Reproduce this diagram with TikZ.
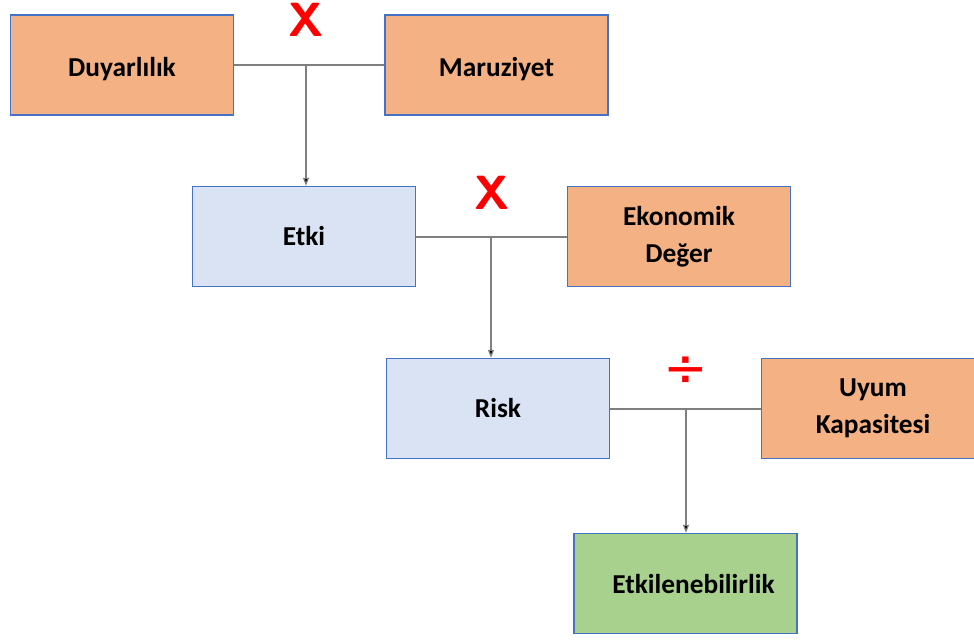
\documentclass[tikz,border=0pt]{standalone}
\usepackage{fontspec}
\setmainfont{Carlito}
\newfontfamily\symfont{DejaVu Sans}
\usetikzlibrary{arrows.meta}
\definecolor{boxorange}{HTML}{F4B183}
\definecolor{boxblue}{HTML}{DAE3F3}
\definecolor{boxgreen}{HTML}{A9D18E}
\definecolor{boxedge}{HTML}{4472C4}
\definecolor{linegray}{HTML}{7F7F7F}
\definecolor{opred}{HTML}{FF0000}
\newcommand{\lowertext}[1]{\raisebox{-3pt}[\height][\depth]{#1}}
\tikzset{
  px/.style={x=0.75pt,y=-0.75pt},
  boxbase/.style={draw=boxedge, line width=1.1pt, minimum width=167.5pt, minimum height=75pt, inner sep=0pt, align=center, font=\fontsize{20.5}{28}\selectfont\bfseries},
  orangebox/.style={boxbase, fill=boxorange},
  bluebox/.style={boxbase, fill=boxblue},
  greenbox/.style={boxbase, fill=boxgreen},
  conn/.style={draw=linegray, line width=0.9pt},
  arr/.style={conn, -{Triangle[width=4.5pt,length=6pt,fill=black]}},
  opsign/.style={text=opred, inner sep=0pt, font=\fontsize{36}{36}\selectfont\bfseries}
}
\begin{document}
\begin{tikzpicture}[px]
\useasboundingbox (0,0) rectangle (974,640);
\clip (0,0) rectangle (974,640);
\fill[white] (0,0) rectangle (974,640);
% boxes
\node[orangebox] (duy) at (122,65) {\lowertext{Duyarlılık}};
\node[orangebox] (mar) at (496.5,65) {\lowertext{Maruziyet}};
\node[bluebox] (etki) at (304,236.5) {Etki};
\node[orangebox] (eko) at (679,236.5) {Ekonomik\\Değer};
\node[bluebox] (risk) at (498,408.5) {Risk};
\node[orangebox] (uyum) at (873,408.5) {Uyum\\Kapasitesi};
\node[greenbox] (etk) at (685.5,583.5) {\hspace*{12pt}Etkilenebilirlik};
% junctions
\coordinate (j1) at (306,65);
\coordinate (j2) at (491,237);
\coordinate (j3) at (686,409);
\draw[conn] (duy.east) -- (mar.west);
\draw[arr] (j1) -- (j1 |- etki.north);
\draw[conn] (etki.east |- j2) -- (eko.west |- j2);
\draw[arr] (j2) -- (j2 |- risk.north);
\draw[conn] (risk.east |- j3) -- (uyum.west |- j3);
\draw[arr] (j3) -- (j3 |- etk.north);
% operators
\node[opsign] (x1) at (306,20) {\sffamily X};
\node[opsign] (x2) at (492,193) {\sffamily X};
\node[opsign, font=\fontsize{40}{40}\selectfont] (div) at (686,372) {\symfont ÷};
\end{tikzpicture}
\end{document}
